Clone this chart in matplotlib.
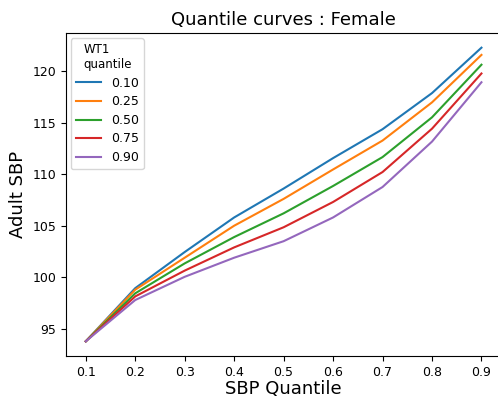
import matplotlib
matplotlib.use('Agg')
import matplotlib.pyplot as plt

# SBP quantile on the x axis
sbp_q = [0.1, 0.2, 0.3, 0.4, 0.5, 0.6, 0.7, 0.8, 0.9]

# adult SBP per WT1 quantile
wt_labels = ['0.10', '0.25', '0.50', '0.75', '0.90']
q10 = [93.8, 98.95, 102.45, 105.8, 108.6, 111.55, 114.35, 117.85, 122.25]
q25 = [93.8, 98.8, 101.9, 105.0, 107.6, 110.45, 113.25, 116.95, 121.55]
q50 = [93.8, 98.45, 101.35, 103.9, 106.2, 108.85, 111.65, 115.5, 120.6]
q75 = [93.8, 98.15, 100.65, 102.9, 104.85, 107.3, 110.2, 114.4, 119.75]
q90 = [93.8, 97.8, 100.05, 101.9, 103.5, 105.8, 108.75, 113.15, 118.9]

fig = plt.figure(figsize=(4.98, 4.0), dpi=100)
ax = fig.add_axes([0.1325, 0.11, 0.874, 0.8075])

for _vals, _lab in zip([q10, q25, q50, q75, q90], wt_labels):
    ax.plot(sbp_q, _vals, linewidth=1.5, label=_lab)

ax.set_xticks(sbp_q)
ax.tick_params(labelsize=9)
ax.set_title('Quantile curves : Female', fontsize=13)
ax.set_xlabel('SBP Quantile', fontsize=13, labelpad=1)
ax.set_ylabel('Adult SBP', fontsize=13)
ax.legend(title='WT1\nquantile', loc='upper left', fontsize=9, title_fontsize=8.5,
          labelspacing=0.45, borderaxespad=0.4)

fig.savefig('out.png', dpi=100)
